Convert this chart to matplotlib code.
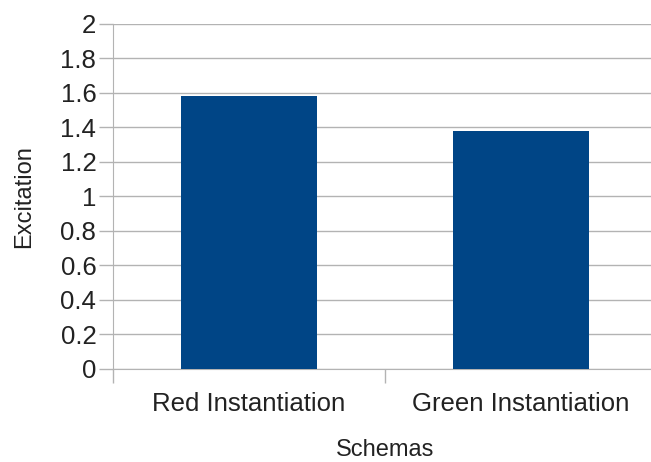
import matplotlib.pyplot as plt

categories = ['Red Instantiation', 'Green Instantiation']
values = [1.58, 1.38]
yticks = [0, 0.2, 0.4, 0.6, 0.8, 1, 1.2, 1.4, 1.6, 1.8, 2]

plt.rcParams['font.family'] = ['Liberation Sans', 'DejaVu Sans']

fig = plt.figure(figsize=(6.51, 4.62), dpi=100)
ax = fig.add_axes([113 / 651, 1 - 368.7 / 462, 544 / 651, 345 / 462])

x = range(len(categories))
ax.bar(x, values, width=0.5, color='#004586', zorder=3)

ax.set_xlim(-0.5, len(categories) - 0.5)
ax.set_ylim(0, 2)
ax.set_yticks(yticks)
ax.set_yticklabels([f'{v:g}' for v in yticks])
ax.yaxis.grid(True, color='#b3b3b3', linewidth=1, zorder=0)

# ticks between categories on x axis
ax.set_xticks([-0.5, 0.5, 1.5])
ax.set_xticklabels([])
ax.set_xticks(list(x), minor=True)
ax.set_xticklabels(categories, minor=True, fontsize=18.5, color='#222222')
ax.tick_params(axis='x', which='minor', length=0, pad=17)
ax.tick_params(axis='x', which='major', length=10, color='#b3b3b3', width=1)
ax.tick_params(axis='y', length=10, color='#b3b3b3', width=1, labelsize=18.5,
               labelcolor='#222222', pad=2)

for s in ['top', 'right']:
    ax.spines[s].set_visible(False)
for s in ['left', 'bottom']:
    ax.spines[s].set_color('#b3b3b3')

ax.set_xlabel('Schemas', fontsize=17, color='#222222', labelpad=16)
ax.set_ylabel('Excitation', fontsize=17, color='#222222', labelpad=18)

fig.savefig('out.png', dpi=100)
